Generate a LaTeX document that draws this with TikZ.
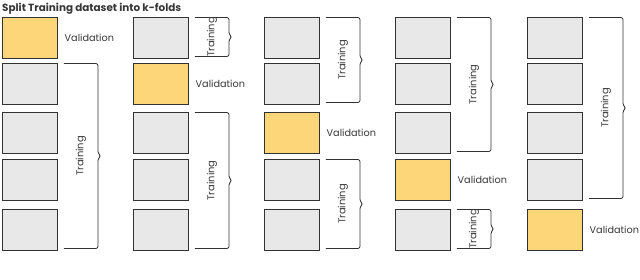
\documentclass[tikz,border=0pt]{standalone}
\usepackage{fontspec}
\setmainfont{Poppins}
\usepackage{xcolor}
\definecolor{foldgray}{RGB}{232,232,232}
\definecolor{foldyellow}{RGB}{253,214,122}
\definecolor{edgedark}{RGB}{50,50,50}
\definecolor{textdark}{RGB}{55,55,55}
\usetikzlibrary{calc, positioning}

\begin{document}
\begin{tikzpicture}[x=1pt, y=-1pt,
    fold/.style={draw=edgedark, line width=0.9pt, minimum width=55pt, minimum height=41pt, inner sep=0pt},
    trainbox/.style={fold, fill=foldgray},
    valbox/.style={fold, fill=foldyellow},
    vlabel/.style={text=textdark, font=\fontsize{9.7}{11}\selectfont, inner sep=0pt},
    tlabel/.style={text=textdark, font=\fontsize{9.9}{11}\selectfont, inner sep=0pt, rotate=90},
    brace/.style={draw=edgedark, line width=0.8pt, rounded corners=2pt}]
    \useasboundingbox (0,0) rectangle (640,279);

    % title
    \node[anchor=base west, inner sep=0pt, text=textdark, font=\fontsize{10.4}{12}\selectfont\bfseries] (title) at (2,11) {Split Training dataset into k-folds};

    % the five folds of every split
    \foreach \c/\x in {1/30, 2/161, 3/292, 4/423, 5/555} {
        \foreach \r/\y in {1/37.5, 2/83.5, 3/132.5, 4/179.5, 5/229.5} {
            \ifnum\c=\r \def\kind{valbox}\else \def\kind{trainbox}\fi
            \node[\kind] (b\c\r) at (\x,\y) {};
        }
        \node[vlabel, right=6.5pt of b\c\c] (v\c) {Validation};
    }

    % training braces: column / first row / last row
    \foreach \c/\a/\b in {1/2/5, 2/1/1, 2/3/5, 3/1/2, 3/4/5, 4/1/3, 4/5/5, 5/1/4} {
        \coordinate (tl) at ($(b\c\a.north east)+(6,1)$);
        \coordinate (bl) at ($(b\c\b.south east)+(6,-2)$);
        \coordinate (tip) at ($(tl)!0.5!(bl)+(37,0)$);
        \draw[brace] (tl) -- ($(tl)+(34,0)$) -- ($(tip)+(-3,-2.5)$) -- (tip)
            -- ($(tip)+(-3,2.5)$) -- ($(bl)+(34,0)$) -- (bl);
        \node[tlabel] (t\c\a) at ($(tl)!0.5!(bl)+(17,0)$) {Training};
    }
\end{tikzpicture}
\end{document}
